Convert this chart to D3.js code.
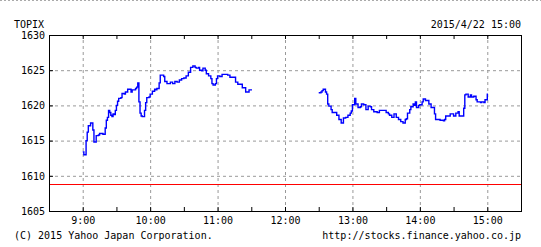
<!DOCTYPE html>
<html>
<head>
<meta charset="utf-8">
<script src="https://cdn.jsdelivr.net/npm/d3@7"></script>
<style>
  body { margin: 0; background: #fff; }
  text { font-family: "DejaVu Sans Mono", monospace; font-size: 10px; fill: #000; }
</style>
</head>
<body>
<script>
// TOPIX intraday, 2015/4/22
const amTimes = ['9:00','9:01','9:03','9:04','9:05','9:07','9:09','9:10','9:12','9:14','9:15','9:18','9:20','9:21','9:22','9:23','9:24','9:25','9:26','9:27','9:28','9:29','9:30','9:31','9:32','9:34','9:35','9:37','9:38','9:40','9:43','9:44','9:47','9:48','9:49','9:50','9:51','9:52','9:53','9:55','9:56','9:57','9:59','10:00','10:02','10:04','10:05','10:06','10:08','10:09','10:12','10:13','10:15','10:18','10:20','10:22','10:24','10:26','10:28','10:30','10:32','10:34','10:36','10:38','10:40','10:41','10:43','10:44','10:46','10:47','10:49','10:50','10:52','10:54','10:55','10:56','10:58','10:59','11:00','11:02','11:04','11:07','11:09','11:11','11:16','11:18','11:22','11:25','11:28','11:30'];
const amValues = [1613.4,1613.0,1615.0,1616.2,1617.1,1617.5,1616.5,1614.8,1615.7,1615.8,1616.0,1615.9,1616.8,1617.9,1618.3,1619.3,1619.0,1618.6,1618.4,1618.8,1618.7,1619.3,1620.0,1620.6,1621.0,1621.1,1621.7,1621.6,1621.9,1622.3,1621.9,1622.2,1622.4,1622.6,1623.2,1620.5,1618.9,1618.5,1618.4,1619.3,1620.4,1621.1,1621.2,1621.6,1622.0,1622.3,1622.2,1622.4,1623.2,1624.3,1624.1,1623.4,1623.1,1623.3,1623.1,1623.4,1623.3,1623.6,1623.8,1623.9,1624.2,1624.7,1625.4,1625.6,1625.4,1625.3,1625.4,1625.0,1624.9,1625.3,1625.0,1624.5,1624.2,1623.8,1623.1,1622.9,1623.1,1623.8,1624.2,1624.1,1624.4,1624.4,1624.3,1624.0,1623.3,1623.0,1622.5,1621.9,1622.2,1622.3];

const pmTimes = ['12:30','12:32','12:33','12:34','12:36','12:37','12:38','12:39','12:41','12:42','12:44','12:46','12:48','12:50','12:52','12:54','12:56','12:58','12:59','13:00','13:02','13:03','13:05','13:07','13:08','13:10','13:12','13:14','13:16','13:17','13:19','13:22','13:24','13:26','13:29','13:30','13:32','13:33','13:35','13:37','13:39','13:41','13:43','13:45','13:47','13:48','13:49','13:51','13:52','13:54','13:55','13:56','13:57','13:59','14:00','14:02','14:03','14:05','14:07','14:08','14:10','14:12','14:13','14:14','14:18','14:21','14:22','14:23','14:25','14:27','14:29','14:30','14:32','14:34','14:35','14:38','14:39','14:40','14:41','14:43','14:45','14:46','14:48','14:50','14:51','14:54','14:55','14:57','14:58','15:00'];
const pmValues = [1621.8,1621.9,1622.1,1622.3,1621.9,1621.6,1620.2,1619.9,1619.4,1619.0,1619.0,1618.6,1618.0,1617.5,1618.2,1618.3,1618.6,1618.9,1619.2,1620.1,1621.0,1620.2,1619.7,1619.8,1620.2,1620.1,1619.4,1619.9,1619.8,1619.4,1619.1,1619.0,1619.3,1619.3,1619.3,1619.0,1618.8,1618.6,1618.3,1618.8,1618.3,1618.0,1617.7,1617.5,1618.0,1618.1,1618.9,1619.4,1619.8,1620.2,1620.0,1620.5,1619.7,1620.0,1620.1,1620.5,1620.9,1620.7,1620.7,1620.2,1619.7,1619.7,1618.8,1618.0,1617.9,1617.8,1618.0,1618.5,1618.5,1618.8,1618.8,1618.5,1618.9,1619.1,1618.5,1618.5,1619.6,1621.5,1621.6,1621.2,1621.5,1621.2,1621.3,1620.8,1620.5,1620.4,1620.5,1620.4,1620.8,1621.7];

const prevClose = 1608.8;
const yTicks = [1605, 1610, 1615, 1620, 1625, 1630];
const hourTicks = ['9:00','10:00','11:00','12:00','13:00','14:00','15:00'];
const halfHourTicks = ['9:00','9:30','10:00','10:30','11:00','11:30','12:00','12:30','13:00','13:30','14:00','14:30','15:00'];
const xDomain = ['8:30', '15:30'];

const title = 'TOPIX';
const stamp = '2015/4/22 15:00';
const credit = '(C) 2015 Yahoo Japan Corporation.';
const source = 'http://stocks.finance.yahoo.co.jp';

const width = 541, height = 247;
const margin = {top: 35, right: 20, bottom: 36, left: 49};
const parseTime = d3.timeParse('%H:%M');

const svg = d3.select('body').append('svg')
    .attr('width', width)
    .attr('height', height);

// dashed edge at the very top of the picture
svg.append('line')
    .attr('x1', 0).attr('x2', width)
    .attr('y1', 0.5).attr('y2', 0.5)
    .attr('stroke', '#aaa')
    .attr('stroke-dasharray', '2,2');

const x = d3.scaleTime()
    .domain(xDomain.map(parseTime))
    .range([margin.left, width - margin.right]);

const y = d3.scaleLinear()
    .domain([1605, 1630])
    .range([height - margin.bottom, margin.top]);

const plotW = width - margin.left - margin.right;
const plotH = height - margin.top - margin.bottom;

//#region grid
const gridX = svg.append('g')
    .attr('transform', `translate(0, ${height - margin.bottom})`)
    .call(d3.axisBottom(x)
        .tickValues(hourTicks.map(parseTime))
        .tickSize(-plotH)
        .tickSizeOuter(0)
        .tickFormat(''));
gridX.select('.domain').remove();
gridX.selectAll('line').attr('stroke', '#999').attr('stroke-dasharray', '3,3');

const gridY = svg.append('g')
    .attr('transform', `translate(${margin.left}, 0)`)
    .call(d3.axisLeft(y)
        .tickValues(yTicks.slice(1, -1))
        .tickSize(-plotW)
        .tickSizeOuter(0)
        .tickFormat(''));
gridY.select('.domain').remove();
gridY.selectAll('line').attr('stroke', '#999').attr('stroke-dasharray', '3,3');
//#endregion

// previous close
svg.append('line')
    .attr('x1', margin.left).attr('x2', width - margin.right)
    .attr('y1', Math.round(y(prevClose)) + 0.5)
    .attr('y2', Math.round(y(prevClose)) + 0.5)
    .attr('stroke', '#ff0000');

//#region price line
const line = d3.line()
    .x(d => x(d.t))
    .y(d => y(d.v))
    .curve(d3.curveStepAfter);

const sessions = [
    amTimes.map((t, i) => ({t: parseTime(t), v: amValues[i]})),
    pmTimes.map((t, i) => ({t: parseTime(t), v: pmValues[i]}))
];

svg.selectAll('.price')
    .data(sessions)
    .join('path')
    .attr('class', 'price')
    .attr('d', line)
    .attr('fill', 'none')
    .attr('stroke', '#0000ff')
    .attr('stroke-width', 1.4);
//#endregion

// frame
svg.append('rect')
    .attr('x', margin.left + 0.5)
    .attr('y', margin.top + 0.5)
    .attr('width', plotW)
    .attr('height', plotH)
    .attr('fill', 'none')
    .attr('stroke', '#000');

//#region axes
const tickBottom = svg.append('g')
    .attr('transform', `translate(0, ${height - margin.bottom})`)
    .call(d3.axisBottom(x)
        .tickValues(halfHourTicks.map(parseTime))
        .tickSize(-4)
        .tickSizeOuter(0)
        .tickFormat(''));
tickBottom.select('.domain').remove();

const tickTop = svg.append('g')
    .attr('transform', `translate(0, ${margin.top})`)
    .call(d3.axisTop(x)
        .tickValues(halfHourTicks.map(parseTime))
        .tickSize(-4)
        .tickSizeOuter(0)
        .tickFormat(''));
tickTop.select('.domain').remove();

const xLabels = svg.append('g')
    .attr('transform', `translate(0, ${height - margin.bottom})`)
    .call(d3.axisBottom(x)
        .tickValues(hourTicks.map(parseTime))
        .tickSize(0)
        .tickPadding(6)
        .tickFormat(d3.timeFormat('%-H:%M')));
xLabels.select('.domain').remove();

const yAxis = svg.append('g')
    .attr('transform', `translate(${margin.left}, 0)`)
    .call(d3.axisLeft(y)
        .tickValues(yTicks)
        .tickSize(-4)
        .tickSizeOuter(0)
        .tickPadding(4)
        .tickFormat(d3.format('d')));
yAxis.select('.domain').remove();

svg.selectAll('.tick line').attr('stroke', '#000');
gridX.selectAll('line').attr('stroke', '#999');
gridY.selectAll('line').attr('stroke', '#999');
svg.selectAll('.tick text')
    .attr('fill', '#000')
    .style('font-family', '"DejaVu Sans Mono", monospace')
    .style('font-size', '10px');
//#endregion

// header and footer
svg.append('text').attr('x', 14).attr('y', 28).text(title);
svg.append('text').attr('x', 521).attr('y', 28).attr('text-anchor', 'end').text(stamp);
svg.append('text').attr('x', 14).attr('y', 239).text(credit);
svg.append('text').attr('x', 521).attr('y', 239).attr('text-anchor', 'end').text(source);
</script>
</body>
</html>
